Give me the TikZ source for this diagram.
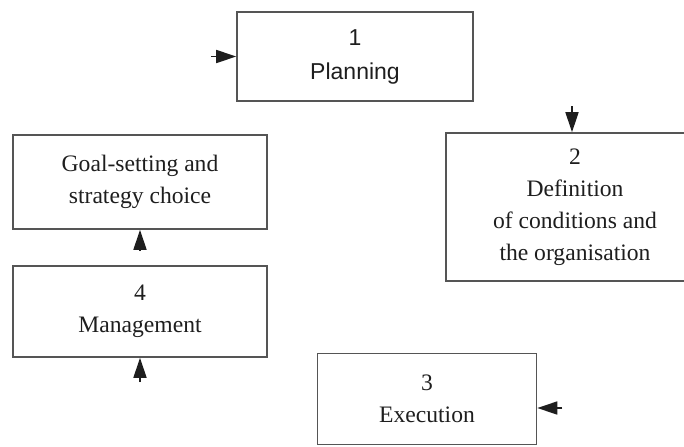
\documentclass[tikz,border=0pt]{standalone}
\usepackage{fontspec}
\setmainfont{Liberation Serif}
\newfontfamily\plainsans{Liberation Sans}
\usepackage{xcolor}
\usepackage{tikz}
\usetikzlibrary{arrows.meta,positioning}
\definecolor{framegray}{RGB}{85,85,85}
\definecolor{inkcolor}{RGB}{30,30,30}

\begin{document}
\begin{tikzpicture}[x=0.5pt,y=-0.5pt,box/.style={draw=framegray,line width=0.8pt,align=center,inner sep=0pt,text=inkcolor,font=\fontsize{11.8}{16}\selectfont},arr/.style={-{Triangle[length=10pt,width=6.5pt]},thick,draw=inkcolor,fill=inkcolor}]
\useasboundingbox (0,0) rectangle (684,446); \clip (0,0) rectangle (684,446);
\node[box,minimum width=118pt,minimum height=44.5pt,font=\plainsans\fontsize{11.5}{17}\selectfont](plan) at (355,56.5){1\\Planning};
\node[box,minimum width=129pt,minimum height=74pt](cond) at (575,207){2\\Definition\\of conditions and\\the organisation};
\node[box,minimum width=109.5pt,minimum height=45.5pt](exec) at (427,399){3\\Execution};
\node[box,minimum width=127pt,minimum height=45.5pt](mgmt) at (140,311.5){4\\Management};
\node[box,minimum width=127pt,minimum height=47pt](goal) at (140,182){Goal-setting and\\strategy choice};
\coordinate (inplan) at (211,56.5); \coordinate (incond) at (572,106); \coordinate (inexec) at (562,408);
\coordinate (ingoal) at (140,251); \coordinate (inmgmt) at (140,382);
\draw[arr](inplan)--(plan); \draw[arr](incond)--(incond|-cond.north); \draw[arr](inexec)--(inexec-|exec.east);
\draw[arr](ingoal)--(goal); \draw[arr](inmgmt)--(mgmt);
\end{tikzpicture}
\end{document}
